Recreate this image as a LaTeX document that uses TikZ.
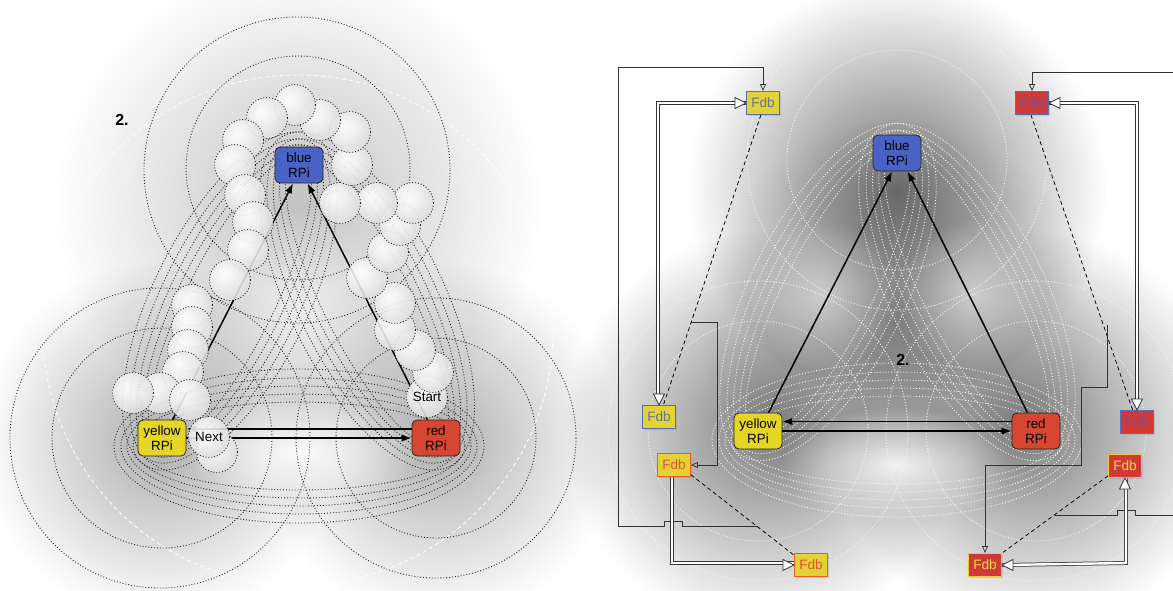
\documentclass[tikz,border=0pt]{standalone}
\usepackage{fontspec}
\setmainfont{Liberation Sans}
\usetikzlibrary{arrows.meta,fadings,shadows,calc}

\definecolor{rpiblue}{RGB}{74,98,198}
\definecolor{rpiyellow}{RGB}{229,214,38}
\definecolor{rpired}{RGB}{214,70,48}
\definecolor{fdbyellow}{RGB}{226,210,56}
\definecolor{fdbred}{RGB}{208,58,52}
\definecolor{edgeblue}{RGB}{86,112,186}
\definecolor{edgeorange}{RGB}{232,96,40}
\definecolor{edgeyellow}{RGB}{240,200,60}
\definecolor{txtblue}{RGB}{96,116,150}
\definecolor{txtpurple}{RGB}{118,78,168}
\definecolor{txtorange}{RGB}{226,84,40}
\definecolor{txtyellow}{RGB}{244,214,92}

% soft sphere used for the chain of balls
\pgfdeclareradialshading{sphere}{\pgfpoint{-8bp}{8bp}}{%
  color(0bp)=(white); color(12bp)=(white!96!black);
  color(34bp)=(white!85!black); color(50bp)=(white!74!black);
  color(70bp)=(white!68!black)}

% radial haze: opaque in the middle, clear at the rim
\tikzfading[name=glow, inner color=transparent!0, outer color=transparent!100]

% loops drawn around a pair of machines
\newcommand\pairloops[3]{%
  \foreach \a/\b in {160/44,166/52,172/60,178/68,185/77}
    \draw[#3, shift={#1}, rotate=#2] (0,0) ellipse [x radius=\a, y radius=\b];%
}
\newcommand\ball[1]{%
  \shade[shading=sphere, opacity=0.88] #1 circle (20.5);
  \draw[dot] #1 circle (20.5);%
}

\begin{document}
\begin{tikzpicture}[x=1pt,y=-1pt,
  rpi/.style={draw=black!85, line width=0.8pt, rounded corners=5pt,
    minimum width=48pt, minimum height=36pt, inner sep=0pt, align=center,
    font=\fontsize{13.4}{15}\selectfont},
  fdb/.style={draw, line width=0.9pt, minimum width=33pt, minimum height=23pt,
    inner sep=0pt, font=\fontsize{13.6}{14}\selectfont,
    drop shadow={opacity=0.25,shadow xshift=1.5pt,shadow yshift=-1.5pt}},
  main/.style={line width=1.5pt, -{Latex[length=10pt,width=7.5pt]}},
  ctl/.style={line width=0.75pt, draw=black!80, -{Triangle[open,length=7pt,width=6pt]}},
  dbl/.style={double=white, double distance=2.4pt, line width=0.75pt, draw=black!80},
  dsh/.style={line width=0.75pt, dash pattern=on 4pt off 3pt},
  dot/.style={line width=0.9pt, dash pattern=on 0.9pt off 2pt, black!85},
  wdot/.style={line width=0.95pt, dash pattern=on 0.9pt off 2pt, white!92!gray},
  wdash/.style={line width=0.8pt, dash pattern=on 4pt off 3pt, white},
  haze/.style={path fading=glow},
  lbl/.style={font=\fontsize{13.4}{14}\selectfont, inner sep=0pt},
  num/.style={font=\bfseries\fontsize{16}{16}\selectfont, inner sep=0pt}]
\useasboundingbox (0,0) rectangle (1173,590);
\fill[white] (0,0) rectangle (1173,590);

% ---------------- left panel: haze ----------------
\fill[black,opacity=.24,haze] (298,205) circle (245);
\fill[black,opacity=.32,haze] (160,440) circle (180);
\fill[black,opacity=.32,haze] (438,440) circle (180);
\fill[white,opacity=.45,haze] (300,305) circle (95);
\fill[white,opacity=.85,haze] (300,452) ellipse [x radius=115, y radius=55];

% left panel: coverage outlines
\draw[wdash] (298,330) circle (255);
\draw[dot] (297,170) circle (153);
\draw[dot] (298,168) circle (112);
\draw[dot] (160,438) circle (150);
\draw[dot] (162,438) circle (110);
\draw[dot] (436,438) circle (140);
\draw[dot] (436,438) circle (100);
\pairloops{(299,446)}{0}{dot}
\pairloops{(230,301)}{63.5}{dot}
\pairloops{(367,301)}{-63.5}{dot}

% left panel: machines
\node[rpi, fill=rpiblue]   (lb) at (299,165) {blue\\RPi};
\node[rpi, fill=rpiyellow] (ly) at (162,438) {yellow\\RPi};
\node[rpi, fill=rpired]    (lr) at (436,438) {red\\RPi};
\node[num] (ln) at (122,120) {2.};

\draw[main] (ly.60) -- (lb.-108);
\draw[main] (lr.115) -- (lb.-65);
\draw[main] ($(lr.west)+(0,-9)$) -- ($(ly.east)+(0,-9)$);
\draw[main] (ly.east) -- (lr.west);

% left panel: chain of balls
\foreach \p in {(427,397),(433,372),(415,350),(395,330),(395,303),(367,278),
  (388,252),(400,225),(413,203),(377,203),(340,203),(352,165),(350,132),
  (320,120),(295,105),(267,118),(243,140),(235,165),(245,195),(253,222),
  (248,250),(230,280),(192,305),(192,327),(188,350),(183,372),
  (160,393),(133,393),(190,400),(217,452)}
  {\ball{\p}}
\ball{(209,437)}
\node[lbl] (nx) at (209,437) {Next};
\node[lbl] (st) at (427,397) {Start};

% ---------------- right panel: haze ----------------
\fill[black,opacity=.55,haze] (897,190) circle (210);
\fill[black,opacity=.50,haze] (765,430) circle (200);
\fill[black,opacity=.50,haze] (1030,430) circle (200);
\fill[black,opacity=.26,haze] (897,320) circle (200);
\fill[white,opacity=.55,haze] (822,295) circle (75);
\fill[white,opacity=.55,haze] (972,295) circle (75);
\fill[white,opacity=.85,haze] (897,465) ellipse [x radius=115, y radius=58];

% right panel: coverage outlines
\draw[wdot] (897,160) circle (150);
\draw[wdot] (897,160) circle (110);
\draw[wdot] (758,431) circle (150);
\draw[wdot] (758,431) circle (110);
\draw[wdot] (1036,431) circle (150);
\draw[wdot] (1036,431) circle (110);
\pairloops{(897,440)}{0}{wdot}
\pairloops{(828,292)}{63.1}{wdot}
\pairloops{(967,292)}{-63.1}{wdot}

% right panel: machines
\node[rpi, fill=rpiblue]   (rb) at (897,153) {blue\\RPi};
\node[rpi, fill=rpiyellow] (ry) at (758,431) {yellow\\RPi};
\node[rpi, fill=rpired]    (rr) at (1036,431) {red\\RPi};
\node[num] (rn) at (903,360) {2.};

\draw[main] (ry.60) -- (rb.-105);
\draw[main] (rr.115) -- (rb.-60);
\draw[main] ($(rr.west)+(0,-9.5)$) -- ($(ry.east)+(0,-9.5)$);
\draw[main] (ry.east) -- (rr.west);

% right panel: forwarding databases
\node[fdb, fill=fdbyellow, draw=edgeblue,   text=txtblue]   (f1) at (763,103) {Fdb};
\node[fdb, fill=fdbred,    draw=edgeblue,   text=txtpurple] (f2) at (1032,103) {Fdb};
\node[fdb, fill=fdbyellow, draw=edgeblue,   text=txtblue]   (f3) at (659,417) {Fdb};
\node[fdb, fill=fdbyellow, draw=edgeorange, text=txtorange] (f4) at (674,465) {Fdb};
\node[fdb, fill=fdbyellow, draw=edgeorange, text=txtorange] (f5) at (811,565) {Fdb};
\node[fdb, fill=fdbred,    draw=edgeblue,   text=txtpurple] (f6) at (1137,422) {Fdb};
\node[fdb, fill=fdbred,    draw=edgeyellow, text=txtyellow] (f7) at (1125,466) {Fdb};
\node[fdb, fill=fdbred,    draw=edgeyellow, text=txtyellow] (f8) at (985,565) {Fdb};

% dashed associations
\draw[dsh] (f1.-100) -- (f3.70);
\draw[dsh] (f2.-95) -- (f6.110);
\draw[dsh] (f4.-30) -- (f5.150);
\draw[dsh] (f7.-150) -- (f8.35);

% control lines
\coordinate (c1) at (757,526);
\coordinate (c2) at (691,322);
\coordinate (c3) at (1173,72);
\coordinate (c4) at (1107,325);
\coordinate (c5) at (1055,515);
\coordinate (c6) at (1173,515);
\draw[ctl] (c1) -- (682,526) -- (682,521) -- (664,521) -- (664,526) -- (618,526)
  -- (618,67) -- (f1.north |- 0,67) -- (f1.north);
\draw[ctl] (c2) -- (717,322) -- (717,465) -- (f4.east);
\draw[ctl] (c3) -- (f2.north |- 0,72) -- (f2.north);
\draw[ctl] (c4) -- (1107,387) -- (1081,387) -- (1081,465) -- (f8.north |- 0,465) -- (f8.north);
\draw[line width=0.75pt, draw=black!80] (c5) -- (1117,515) -- (1117,510) -- (1135,510)
  -- (1135,515) -- (c6);

% double links
\draw[dbl] (f1.west) -- (658,103) -- (658,400);
\draw[dbl] (f2.east) -- (1137,103) -- (1137,405);
\draw[dbl] (672,477) -- (672,563) -- (794,563);
\draw[dbl] (f8.east) -- (1126,563) -- (1126,478);
\foreach \tip/\ang in {(f1.west)/0,(f3.north)/-90,(f2.east)/180,(f6.north)/-90,
  (f5.west)/0,(f8.east)/180,(f7.south)/90}
  \draw[line width=0.8pt, draw=black!80, fill=white, shift={\tip}, rotate=\ang]
    (0,0) -- (-11,5.5) -- (-11,-5.5) -- cycle;
\end{tikzpicture}
\end{document}
